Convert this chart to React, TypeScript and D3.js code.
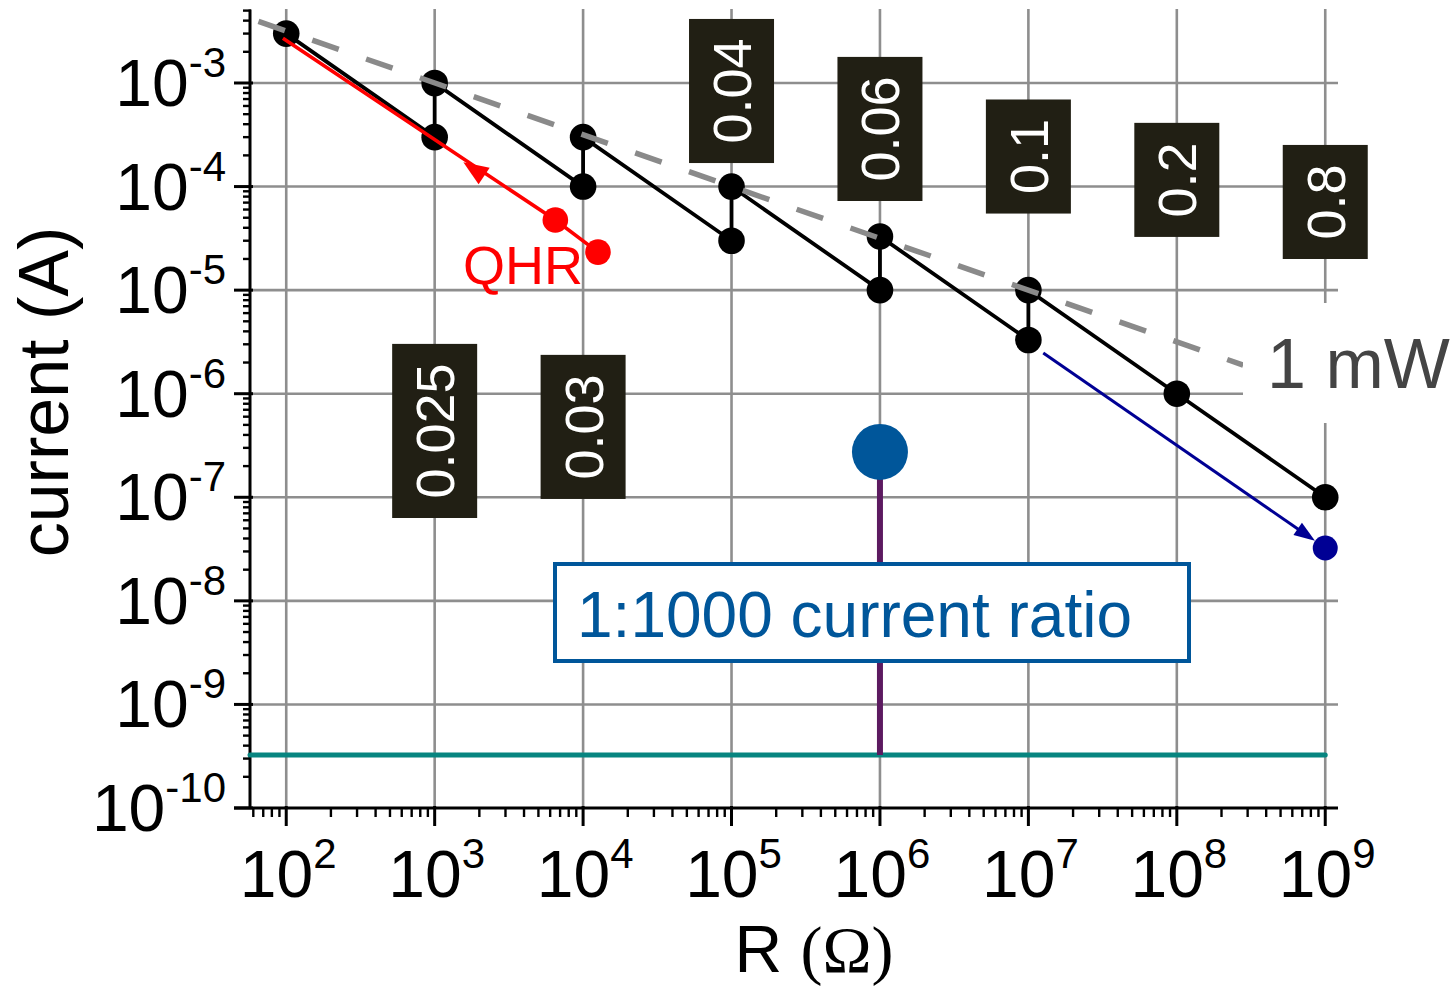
import * as d3 from "d3"

// resistance decades with labels / gridlines
const xDecades = [2, 3, 4, 5, 6, 7, 8, 9]
const yDecades = [-3, -4, -5, -6, -7, -8, -9, -10]

// black staircase (bridge ranges)
const stepR = [1e2, 1e3, 1e3, 1e4, 1e4, 1e5, 1e5, 1e6, 1e6, 1e7, 1e7, 1e8, 1e9]
const stepI = [3e-3, 3e-4, 1e-3, 1e-4, 3e-4, 3e-5, 1e-4, 1e-5, 3.3e-5, 3.3e-6, 1e-5, 1e-6, 1e-7]

// QHR (red)
const qhrR = [95, 6500, 12600]
const qhrI = [2.7e-3, 4.75e-5, 2.33e-5]
const qhrArrow = [1560, 1.72e-4]

// 1 mW dissipation line (gray dashed)
const mwR = [65, 2.8e8]
const mwI = [3.93e-3, 1.89e-6]

// 1:1000 ratio arrow (navy)
const ratioR = [1.26e7, 1e9]
const ratioI = [2.47e-6, 3.24e-8]

// central marker + stem + noise floor
const stemR = 1e6
const stemI = [2.74e-7, 3.25e-10]
const floorR = [57, 1e9]
const floorI = 3.25e-10

// relative uncertainty boxes
const boxText = ["0.025", "0.03", "0.04", "0.06", "0.1", "0.2", "0.8"]
const boxR = [1e3, 1e4, 1e5, 1e6, 1e7, 1e8, 1e9]
const boxI = [4.37e-7, 4.78e-7, 8.37e-4, 3.6e-4, 1.95e-4, 1.16e-4, 7.1e-5]

const W = 1453
const H = 986
const SANS = "'Liberation Sans', Arial, sans-serif"
const GRID = "#8e8e8e"

const x = d3.scaleLog().domain([57, 1.2e9]).range([250, 1337])
const y = d3.scaleLog().domain([1e-10, 5e-3]).range([808, 10.6])

const line = d3
  .line<[number, number]>()
  .x((d) => x(d[0]))
  .y((d) => y(d[1]))

function minorTicks(lo: number, hi: number, dom: [number, number]) {
  const out: number[] = []
  for (let e = lo; e <= hi; e++) {
    for (let m = 2; m <= 9; m++) {
      const v = m * Math.pow(10, e)
      if (v >= dom[0] && v <= dom[1]) out.push(v)
    }
  }
  return out
}

function arrowHead(tx: number, ty: number, ux: number, uy: number, len: number, hw: number) {
  const bx = tx - ux * len
  const by = ty - uy * len
  return `${tx},${ty} ${bx - uy * hw},${by + ux * hw} ${bx + uy * hw},${by - ux * hw}`
}

function textLen(s: string, size: number) {
  let w = 0
  for (const c of s) w += c === "." ? 0.278 : 0.556
  return w * size
}

const App = () => {
  const stepPts = stepR.map((r, i) => [r, stepI[i]] as [number, number])
  const qhrPts = qhrR.map((r, i) => [r, qhrI[i]] as [number, number])
  const mwPts = mwR.map((r, i) => [r, mwI[i]] as [number, number])

  // red arrow direction (towards lower resistance)
  const rax = x(qhrArrow[0])
  const ray = y(qhrArrow[1])
  const rdx = x(qhrR[0]) - x(qhrR[1])
  const rdy = y(qhrI[0]) - y(qhrI[1])
  const rl = Math.hypot(rdx, rdy)

  // navy arrow
  const bx0 = x(ratioR[0])
  const by0 = y(ratioI[0])
  const bx1 = x(ratioR[1])
  const by1 = y(ratioI[1])
  const bl = Math.hypot(bx1 - bx0, by1 - by0)
  const bux = (bx1 - bx0) / bl
  const buy = (by1 - by0) / bl
  const tipX = bx1 - bux * 12.5
  const tipY = by1 - buy * 12.5

  const xMinor = minorTicks(1, 9, [57, 1.2e9])
  const yMinor = minorTicks(-10, -3, [1e-10, 5e-3])

  return (
    <svg
      width={W}
      height={H}
      style={{ position: "absolute", left: 0, top: 0, background: "#fff" }}
      fontFamily={SANS}
    >
      {/* grid */}
      <g stroke={GRID} strokeWidth={2.6}>
        {xDecades.map((d) => (
          <line key={"gx" + d} x1={x(10 ** d)} x2={x(10 ** d)} y1={9} y2={808} />
        ))}
        {yDecades.slice(0, -1).map((d) => (
          <line key={"gy" + d} x1={250} x2={1338} y1={y(10 ** d)} y2={y(10 ** d)} />
        ))}
      </g>

      {/* axes */}
      <g stroke="#000" strokeWidth={3}>
        <line x1={250} x2={250} y1={9.5} y2={809} />
        <line x1={234} x2={1338} y1={808} y2={808} />
        {yDecades.map((d) => (
          <line key={"ty" + d} x1={234} x2={253} y1={y(10 ** d)} y2={y(10 ** d)} />
        ))}
        {yMinor.map((v, i) => (
          <line key={"my" + i} x1={243} x2={251} y1={y(v)} y2={y(v)} strokeWidth={2.4} />
        ))}
        {xDecades.map((d) => (
          <line key={"tx" + d} x1={x(10 ** d)} x2={x(10 ** d)} y1={806} y2={826} />
        ))}
        {xMinor.map((v, i) => (
          <line key={"mx" + i} x1={x(v)} x2={x(v)} y1={808} y2={817} strokeWidth={2.4} />
        ))}
      </g>

      {/* tick labels */}
      <g fill="#000" fontSize={66}>
        {yDecades.map((d) => (
          <text key={"ly" + d} x={226} y={y(10 ** d) + 23} textAnchor="end">
            10
            <tspan fontSize={42} dy={-29}>
              {d}
            </tspan>
          </text>
        ))}
        {xDecades.map((d) => (
          <text key={"lx" + d} x={x(10 ** d) + 2} y={897} textAnchor="middle">
            10
            <tspan fontSize={42} dy={-29}>
              {d}
            </tspan>
          </text>
        ))}
      </g>

      {/* noise floor + central marker */}
      <line
        x1={x(floorR[0])}
        x2={x(floorR[1])}
        y1={y(floorI)}
        y2={y(floorI)}
        stroke="#078580"
        strokeWidth={5}
        strokeLinecap="round"
      />
      <line
        x1={x(stemR)}
        x2={x(stemR)}
        y1={y(stemI[0])}
        y2={y(stemI[1])}
        stroke="#5c1a60"
        strokeWidth={6}
      />
      <circle cx={x(stemR)} cy={y(stemI[0])} r={28} fill="#00569a" />
      <rect x={555} y={564} width={634} height={97} fill="#fff" stroke="#00569a" strokeWidth={4} />
      <text x={577} y={637} fontSize={64} fill="#00569a">
        1:1000 current ratio
      </text>

      {/* black staircase */}
      <path d={line(stepPts) || ""} fill="none" stroke="#000" strokeWidth={3.8} />
      {stepPts.map((p, i) => (
        <circle key={"b" + i} cx={x(p[0])} cy={y(p[1])} r={13.3} fill="#000" />
      ))}

      {/* QHR */}
      <path d={line(qhrPts) || ""} fill="none" stroke="#ff0000" strokeWidth={3.6} />
      <polygon points={arrowHead(rax, ray, rdx / rl, rdy / rl, 25, 10)} fill="#ff0000" />
      {qhrPts.slice(1).map((p, i) => (
        <circle key={"r" + i} cx={x(p[0])} cy={y(p[1])} r={12.8} fill="#ff0000" />
      ))}
      <text x={463} y={284} fontSize={54} fill="#ff0000">
        QHR
      </text>

      {/* navy ratio arrow */}
      <line
        x1={bx0}
        y1={by0}
        x2={tipX - bux * 15}
        y2={tipY - buy * 15}
        stroke="#000094"
        strokeWidth={3}
      />
      <polygon points={arrowHead(tipX, tipY, bux, buy, 21, 7.5)} fill="#000094" />
      <circle cx={bx1} cy={by1} r={12.5} fill="#000094" />

      {/* 1 mW */}
      <path
        d={line(mwPts) || ""}
        fill="none"
        stroke="#8a8a8a"
        strokeWidth={5.5}
        strokeDasharray="28 29"
      />
      <rect x={1243} y={303} width={210} height={120} fill="#fff" />
      <text x={1267} y={388} fontSize={70} fill="#444">
        1 mW
      </text>

      {/* uncertainty boxes */}
      {boxText.map((t, i) => {
        const h = textLen(t, 54) + 39
        return (
          <g key={"box" + i} transform={`translate(${x(boxR[i])},${y(boxI[i])})`}>
            <rect x={-42.5} y={-h / 2} width={85} height={h} fill="#211f14" />
            <text
              transform="rotate(-90)"
              textAnchor="middle"
              dy="0.36em"
              fontSize={54}
              fill="#fff"
            >
              {t}
            </text>
          </g>
        )
      })}

      {/* axis titles */}
      <text
        transform="translate(68,392) rotate(-90)"
        textAnchor="middle"
        fontSize={70}
        fill="#000"
      >
        current (A)
      </text>
      <text x={814} y={972} textAnchor="middle" fontSize={66} fill="#000">
        R{" "}
        <tspan fontFamily="'Liberation Serif', 'Times New Roman', serif">(Ω)</tspan>
      </text>
    </svg>
  )
}

export default App
